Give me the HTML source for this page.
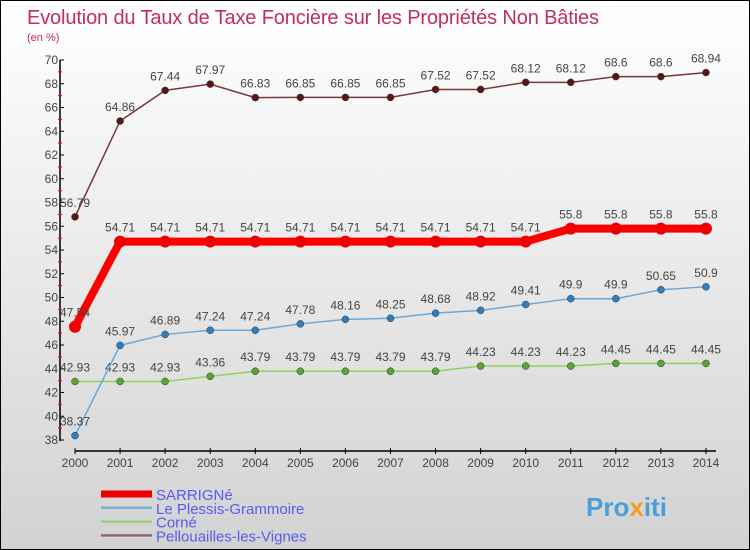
<!DOCTYPE html>
<html><head><meta charset="utf-8"><style>
body{margin:0}
#c{position:relative;width:748px;height:548px;border:1px solid #000;background:linear-gradient(#fff 0%,#f2f2f2 30%,#d2d2d2 100%);overflow:hidden;font-family:"Liberation Sans",sans-serif}
svg text{font-family:"Liberation Sans",sans-serif}
</style></head><body>
<div id="c">
<svg id="s" width="748" height="548">
<text x="26" y="23" font-size="20" fill="#c0305a" textLength="572">Evolution du Taux de Taxe Foncière sur les Propriétés Non Bâties</text>
<text x="26" y="40" font-size="11" fill="#c0305a">(en %)</text>
<g id="ax"></g><g id="ser"></g><g id="leg"></g>
<text x="585" y="515" font-size="26" font-weight="bold" fill="#4a9fd8">Pro<tspan fill="#f39c1e">x</tspan>iti</text>
</svg></div>
<script>
const years=[2000,2001,2002,2003,2004,2005,2006,2007,2008,2009,2010,2011,2012,2013,2014];
const sarrigne=[47.54,54.71,54.71,54.71,54.71,54.71,54.71,54.71,54.71,54.71,54.71,55.8,55.8,55.8,55.8];
const plessis=[38.37,45.97,46.89,47.24,47.24,47.78,48.16,48.25,48.68,48.92,49.41,49.9,49.9,50.65,50.9];
const corne=[42.93,42.93,42.93,43.36,43.79,43.79,43.79,43.79,43.79,44.23,44.23,44.23,44.45,44.45,44.45];
const pellouailles=[56.79,64.86,67.44,67.97,66.83,66.85,66.85,66.85,67.52,67.52,68.12,68.12,68.6,68.6,68.94];
const yTicks=[38,40,42,44,46,48,50,52,54,56,58,60,62,64,66,68,70];
const names=["SARRIGNé","Le Plessis-Grammoire","Corné","Pellouailles-les-Vignes"];
const NS="http://www.w3.org/2000/svg";
const X=i=>74+i*45.07, Y=v=>439-(v-38)*11.875;
function mk(t,a,p){const e=document.createElementNS(NS,t);for(const k in a)e.setAttribute(k,a[k]);p.appendChild(e);return e;}
const ax=document.getElementById('ax');
let l=mk('line',{x1:59,y1:59,x2:59,y2:440,stroke:'#000','stroke-width':1.5},ax);

l=mk('line',{x1:74,y1:450,x2:715,y2:450,stroke:'#000','stroke-width':1.5},ax);

yTicks.forEach((v,k)=>{mk('line',{x1:59,y1:Y(v),x2:63,y2:Y(v),stroke:'#000'},ax);
 if(k<yTicks.length-1)mk('line',{x1:57,y1:Y(v+1),x2:61,y2:Y(v+1),stroke:'#e00'},ax);
 const t=mk('text',{x:57,y:Y(v)+4,'font-size':12,fill:'#444','text-anchor':'end'},ax);t.textContent=v;
 });
years.forEach((y,i)=>{mk('line',{x1:X(i),y1:447,x2:X(i),y2:453,stroke:'#000'},ax);
 const t=mk('text',{x:X(i),y:466,'font-size':12,fill:'#444','text-anchor':'middle'},ax);t.textContent=y;
 });
const ser=document.getElementById('ser');
const S=[[corne,'#8fd060','#5aa530',1.5,3.5,'corne'],[plessis,'#6aa8d8','#2f7fbf',1.5,3.5,'plessis'],[pellouailles,'#7a3838','#5a1616',1.5,3.5,'pellouailles'],[sarrigne,'#ff0000','#ee0000',8,6,'sarrigne']];
S.forEach(([d,c,dc,w,r,n])=>{
 const p=mk('polyline',{points:d.map((v,i)=>X(i)+','+Y(v)).join(' '),fill:'none',stroke:c,'stroke-width':w},ser);
 
 d.forEach((v,i)=>{const cc=mk('circle',{cx:X(i),cy:Y(v),r:r,fill:dc,stroke:n=='sarrigne'?'none':'#333','stroke-width':0.5},ser);
  
  const t=mk('text',{x:X(i),y:Y(v)-10,'font-size':12,fill:'#444','text-anchor':'middle'},ser);t.textContent=v;
  });
});
const leg=document.getElementById('leg');
const LC=[['#ee0000',7],['#78acd0',2.5],['#9ed080',2.5],['#906868',2.5]];
names.forEach((n,i)=>{const y=493+i*13.8;
 const ln=mk('line',{x1:100,y1:y,x2:151,y2:y,stroke:LC[i][0],'stroke-width':LC[i][1]},leg);
 
 const t=mk('text',{x:155,y:y+6,'font-size':15,fill:'#5a5af0'},leg);t.textContent=n;
 });
</script>
</body></html>
